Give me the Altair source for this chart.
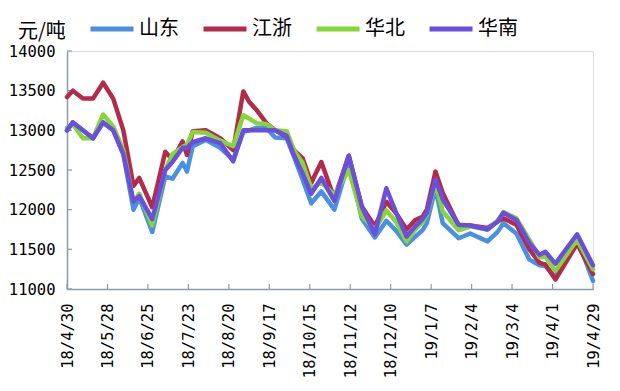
import altair as alt
import pandas as pd

dates = [
    "2018-04-30", "2018-05-04", "2018-05-11", "2018-05-18", "2018-05-25", "2018-06-01",
    "2018-06-08", "2018-06-15", "2018-06-19", "2018-06-28", "2018-07-07", "2018-07-12",
    "2018-07-19", "2018-07-22", "2018-07-26", "2018-08-04", "2018-08-14", "2018-08-23",
    "2018-08-30", "2018-09-03", "2018-09-08", "2018-09-15", "2018-09-21", "2018-09-29",
    "2018-10-04", "2018-10-10", "2018-10-16", "2018-10-23", "2018-11-01", "2018-11-11",
    "2018-11-20", "2018-11-29", "2018-12-07", "2018-12-14", "2018-12-21", "2018-12-27",
    "2019-01-01", "2019-01-04", "2019-01-10", "2019-01-15", "2019-01-26", "2019-02-03",
    "2019-02-15", "2019-02-22", "2019-02-26", "2019-03-07", "2019-03-16", "2019-03-23",
    "2019-03-27", "2019-04-03", "2019-04-18", "2019-04-29",
]
shandong = [13000, 13100, 13000, 12900, 13100, 13000, 12700, 12000, 12150, 11720, 12420, 12390,
            12590, 12480, 12800, 12880, 12780, 12630, 12980, 13000, 13030, 13030, 12910, 12900,
            12670, 12380, 12080, 12230, 12000, 12600, 11890, 11650, 11860, 11730, 11560, 11660,
            11740, 11830, 12270, 11830, 11640, 11700, 11600, 11720, 11830, 11700, 11370, 11300,
            11290, 11150, 11640, 11100]
jiangzhe = [13420, 13500, 13400, 13400, 13600, 13400, 13000, 12300, 12400, 12030, 12730, 12630,
            12860, 12690, 12990, 13000, 12900, 12750, 13490, 13360, 13260, 13090, 13000, 12920,
            12750, 12650, 12340, 12600, 12140, 12680, 12040, 11790, 12100, 11950, 11750, 11870,
            11910, 12000, 12480, 12210, 11800, 11800, 11770, 11850, 11890, 11810, 11500, 11330,
            11310, 11120, 11570, 11190]
huabei = [13030, 13080, 12900, 12900, 13200, 13050, 12750, 12100, 12200, 11800, 12500, 12700,
          12790, 12820, 12980, 12970, 12870, 12800, 13190, 13150, 13090, 13080, 13000, 12990,
          12750, 12590, 12270, 12340, 12190, 12500, 11920, 11750, 11990, 11840, 11600, 11750,
          11840, 11940, 12330, 11980, 11740, 11790, 11750, 11860, 11970, 11890, 11620, 11400,
          11410, 11230, 11620, 11250]
huanan = [13000, 13100, 13000, 12900, 13100, 13000, 12700, 12100, 12170, 11880, 12500, 12600,
          12780, 12780, 12850, 12900, 12840, 12610, 13000, 13000, 13000, 13000, 13000, 12930,
          12690, 12460, 12200, 12400, 12110, 12680, 12040, 11690, 12270, 11950, 11660, 11790,
          11880, 11960, 12380, 12130, 11810, 11800, 11750, 11850, 11960, 11870, 11580, 11430,
          11470, 11320, 11690, 11300]

series_names = ["山东", "江浙", "华北", "华南"]
series_colors = ["#4A90E2", "#B22B4B", "#86D63A", "#6B4EDC"]
y_ticks = [11000, 11500, 12000, 12500, 13000, 13500, 14000]
x_tick_dates = ["2018-04-30", "2018-05-28", "2018-06-25", "2018-07-23", "2018-08-20",
                "2018-09-17", "2018-10-15", "2018-11-12", "2018-12-10", "2019-01-07",
                "2019-02-04", "2019-03-04", "2019-04-01", "2019-04-29"]

rows = []
for name, vals in zip(series_names, [shandong, jiangzhe, huabei, huanan]):
    for d, v in zip(dates, vals):
        rows.append({"date": d, "price": v, "series": name})
df = pd.DataFrame(rows)
df["date"] = pd.to_datetime(df["date"])


def dt(s):
    y, m, d = (int(p) for p in s.split("-"))
    return alt.DateTime(year=y, month=m, date=d)


axis_color = "#8C9AA3"
num_font = "DejaVu Sans Mono"
cjk_font = "Noto Sans CJK SC"

x_enc = alt.X(
    "date:T",
    scale=alt.Scale(domain=[dt(x_tick_dates[0]), dt(x_tick_dates[-1])], nice=False),
    axis=alt.Axis(values=[dt(s) for s in x_tick_dates], format="%y/%-m/%-d", labelAngle=270,
                  labelFont=num_font, labelFontSize=15.5, labelColor="black", labelPadding=14,
                  ticks=False, grid=False, domainColor=axis_color, domainWidth=1.5,
                  labelFlush=False, labelOverlap=False, title=None),
)
y_enc = alt.Y(
    "price:Q",
    scale=alt.Scale(domain=[11000, 14000], nice=False, zero=False),
    axis=alt.Axis(values=y_ticks, format="d", labelFont=num_font, labelFontSize=15.5,
                  labelColor="black", labelPadding=12, ticks=False, grid=False,
                  domainColor=axis_color, domainWidth=1.5, labelFlush=False, title=None),
)

lines = alt.Chart(df).mark_line(strokeWidth=4.5, strokeJoin="round", strokeCap="round").encode(
    x=x_enc,
    y=y_enc,
    color=alt.Color(
        "series:N",
        scale=alt.Scale(domain=series_names, range=series_colors),
        sort=series_names,
        legend=alt.Legend(
            title="元/吨", orient="none", legendX=-49, legendY=-46, direction="horizontal",
            titleOrient="left", titleFont=cjk_font, titleFontSize=20, titleFontWeight="normal",
            titleColor="black", titlePadding=22, titleBaseline="top",
            symbolType="stroke", symbolSize=1849, symbolStrokeWidth=5,
            labelFont=cjk_font, labelFontSize=20, labelColor="black", labelOffset=3,
            columnPadding=14,
        ),
    ),
)

xtick_df = pd.DataFrame({"date": pd.to_datetime(x_tick_dates)})
xticks = alt.Chart(xtick_df).mark_rule(color=axis_color, strokeWidth=1.2).encode(
    x=x_enc, y=alt.value(238), y2=alt.value(233)
)
ytick_df = pd.DataFrame({"price": y_ticks})
yticks = alt.Chart(ytick_df).mark_rule(color=axis_color, strokeWidth=1.2).encode(
    y=y_enc, x=alt.value(0), x2=alt.value(5)
)

chart = alt.layer(xticks, yticks, lines).properties(
    width=526, height=238,
    padding={"left": 59, "top": 43, "right": 19, "bottom": 94},
    autosize=alt.AutoSizeParams(type="none"),
).configure_view(stroke=None).configure(background="white")

chart.save("out.html", embed_options={"renderer": "svg", "actions": False})
